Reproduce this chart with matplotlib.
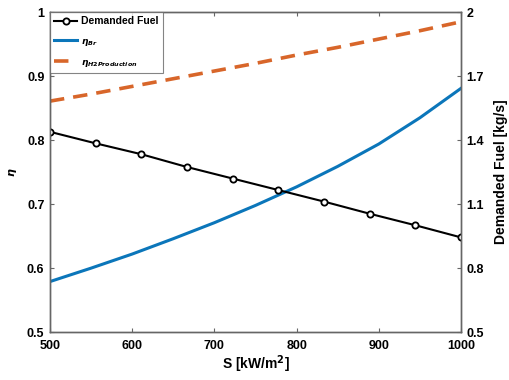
import numpy as np
import matplotlib
matplotlib.use("Agg")
import matplotlib.pyplot as plt

# Data
s_curve = [500, 550, 600, 650, 700, 750, 800, 850, 900, 950, 1000]
eta_br = [0.579, 0.600, 0.622, 0.646, 0.671, 0.698, 0.727, 0.759, 0.794, 0.835, 0.881]
eta_h2 = [0.861, 0.872, 0.884, 0.896, 0.908, 0.920, 0.933, 0.945, 0.958, 0.971, 0.985]

s_fuel = [500, 555.6, 611.1, 666.7, 722.2, 777.8, 833.3, 888.9, 944.4, 1000]
fuel = [1.439, 1.385, 1.334, 1.274, 1.220, 1.166, 1.112, 1.055, 1.001, 0.944]

left_ticks = [0.5, 0.6, 0.7, 0.8, 0.9, 1.0]
left_labels = ["0.5", "0.6", "0.7", "0.8", "0.9", "1"]
right_ticks = [0.5, 0.8, 1.1, 1.4, 1.7, 2.0]
right_labels = ["0.5", "0.8", "1.1", "1.4", "1.7", "2"]
x_ticks = [500, 600, 700, 800, 900, 1000]

blue = "#0B76BA"
orange = "#D8662A"
axcol = "#666666"

plt.rcParams["font.family"] = ["Liberation Sans", "DejaVu Sans"]
plt.rcParams["font.weight"] = "bold"
plt.rcParams["mathtext.fontset"] = "dejavusans"

fig = plt.figure(figsize=(5.1, 3.8), dpi=100)
ax = fig.add_axes([0.098, 0.126, 0.806, 0.842])
ax2 = ax.twinx()

l_br, = ax.plot(s_curve, eta_br, color=blue, lw=2.2, label=r"$\eta_{Br}$")
l_h2, = ax.plot(s_curve, eta_h2, color=orange, lw=2.6, ls=(0, (4, 2.5)),
                label=r"$\eta_{H2Production}$")
l_f, = ax2.plot(s_fuel, fuel, color="black", lw=1.5, marker="o", ms=4.5,
                mfc="white", mec="black", mew=1.3, label="Demanded Fuel")

ax.set_xlim(500, 1000)
ax.set_ylim(0.5, 1.0)
ax2.set_ylim(0.5, 2.0)

ax.set_xticks(x_ticks)
ax.set_xticklabels([str(v) for v in x_ticks], fontsize=9, fontweight="bold")
ax.set_yticks(left_ticks)
ax.set_yticklabels(left_labels, fontsize=9, fontweight="bold")
ax2.set_yticks(right_ticks)
ax2.set_yticklabels(right_labels, fontsize=9, fontweight="bold")

ax.tick_params(axis="x", direction="in", length=3, color=axcol, top=True, pad=6)
ax.tick_params(axis="y", direction="in", length=3, color=axcol, pad=4)
ax2.tick_params(direction="in", length=3, color=axcol, pad=4)
for a in (ax, ax2):
    for sp in a.spines.values():
        sp.set_color(axcol)
        sp.set_linewidth(1.0)

ax.set_xlabel(r"S [kW/m$^\mathbf{2}$]", fontsize=10, fontweight="bold", labelpad=1)
ax.set_ylabel(r"$\eta$", fontsize=8, labelpad=6)
ax2.set_ylabel("Demanded Fuel [kg/s]", fontsize=10, fontweight="bold", labelpad=7)

leg = ax2.legend(handles=[l_f, l_br, l_h2], loc="upper left",
                 frameon=True, fancybox=False, borderaxespad=0.0,
                 handlelength=2.2, labelspacing=0.95, borderpad=0.4,
                 handletextpad=0.4, prop={"weight": "bold", "size": 7.5})
leg.get_frame().set_edgecolor(axcol)
leg.get_frame().set_linewidth(0.8)
for t in leg.get_texts()[1:]:
    t.set_fontsize(6.5)

fig.savefig("out.png", dpi=100)
